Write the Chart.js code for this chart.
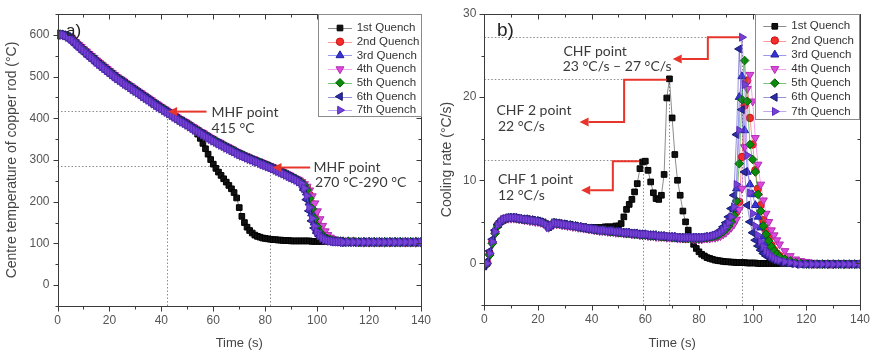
<!DOCTYPE html>
<html><head><meta charset="utf-8">
<script src="https://cdn.jsdelivr.net/npm/chart.js@4.4.1/dist/chart.umd.min.js"></script>
<style>
html,body{margin:0;padding:0;background:#fff;width:879px;height:352px;overflow:hidden;}
#wrap{position:relative;width:879px;height:352px;background:#fff;}
canvas{position:absolute;top:0;}
#cA{left:0;width:440px;height:352px;}
#cB{left:436px;width:443px;height:352px;}
</style></head><body>
<div id="wrap"><canvas id="cA" width="440" height="352"></canvas><canvas id="cB" width="443" height="352"></canvas></div>
<script>
// ---------- DATA ----------
const SERIES = ['1st Quench','2nd Quench','3rd Quench','4th Quench','5th Quench','6th Quench','7th Quench'];

// time (s) shared by every series
const T = [0,1,2,3,4,5,6,7,8,9,10,11,12,13,14,15,16,17,18,19,20,21,22,23,24,25,26,27,28,29,30,31,32,33,34,35,36,37,38,39,40,41,42,43,44,45,46,47,48,49,
50,51,52,53,54,55,56,57,58,59,60,61,62,63,64,65,66,67,68,69,70,71,72,73,74,75,76,77,78,79,80,81,82,83,84,85,86,87,88,89,90,91,92,93,94,95,96,97,98,99,100,101,102,103,104,105,106,107,108,109,110,
112,114,116,118,120,122,124,126,128,130,132,134,136,138,140];

// panel a) centre temperature (°C)
const temp1 = [600,600,600,598,595,591,586,580,574,568, 563,557,552,546,541,535,530,525,520,515, 510,505,500,495,491,487,482,478,474,469, 465,461,457,452,448,444,440,435,431,427, 423,419,415,411,407,403,399,395,391,388,
384,380,376,370,362,352,340,327,314,301, 290,280,271,263,255,247,239,231,222,209, 186,165,150,139,131,125,120,117,115,113, 112,111,110,109,109,108,108,107,107,107, 106,106,106,106,106,106,106,106,105,105, 105,105,105,105,105,105,105,105,105,104, 104,
104,104,104,104,104,104,104,104,104,104,104,104,104,104,104];
const temp2 = [601,601,600,599,596,592,587,581,575,570, 564,559,553,548,542,537,532,527,522,517, 512,507,502,497,493,489,484,480,476,471, 467,463,459,454,450,446,442,437,433,429, 425,421,417,413,409,405,401,397,393,390,
386,382,378,374,370,366,363,359,355,351, 348,344,341,338,334,331,328,325,321,318, 315,312,309,307,304,301,299,296,294,291, 289,286,283,281,278,275,272,269,266,263, 259,256,253,250,246,240,232,216,194,170, 150,135,124,117,113,110,108,106,105,105, 104,
104,104,103,103,103,103,103,103,103,103,103,103,103,103,103];
const temp3 = [600,600,600,598,595,591,586,580,574,569, 563,558,552,547,542,536,531,526,521,516, 511,506,501,496,492,488,483,479,475,470, 466,462,458,453,449,445,441,436,432,428, 424,420,416,412,408,404,400,396,392,389,
385,381,377,373,369,365,362,358,354,350, 347,343,340,337,333,330,327,324,320,317, 314,311,308,305,303,300,298,295,293,290, 287,285,282,279,276,273,271,268,265,262, 258,255,252,249,245,237,222,198,172,150, 134,123,116,112,109,107,106,105,104,104, 104,
104,103,103,103,103,103,103,103,103,103,103,103,103,103,103];
const temp4 = [602,602,601,600,597,593,588,582,576,571, 565,560,554,549,544,538,533,528,523,518, 513,508,503,498,494,490,485,481,477,472, 468,464,460,455,451,447,443,438,434,430, 426,422,418,414,410,406,402,398,394,391,
387,383,379,375,371,367,364,360,356,352, 349,345,342,339,335,332,329,326,322,319, 316,313,310,308,305,302,300,297,295,292, 290,287,284,282,279,276,273,270,267,264, 260,257,254,251,247,242,236,227,213,196, 177,158,142,129,120,114,110,108,106,105, 105,
104,104,104,103,103,103,103,103,103,103,103,103,103,103,103];
const temp5 = [601,601,600,598,596,592,587,581,575,569, 563,558,552,547,542,536,531,526,521,516, 511,506,501,496,492,488,483,479,475,470, 466,462,458,453,449,445,441,436,432,428, 424,420,416,412,408,404,400,396,392,389,
385,381,377,373,369,366,362,358,354,351, 347,344,340,337,334,330,327,324,321,318, 314,312,309,306,303,301,298,296,293,291, 288,285,283,280,277,274,271,268,265,262, 259,256,253,249,245,239,228,208,183,159, 140,127,119,114,110,108,106,105,105,104, 104,
104,104,103,103,103,103,103,103,103,103,103,103,103,103,103];
const temp6 = [600,600,599,598,595,590,585,579,573,567, 562,556,551,546,541,535,530,525,520,515, 510,505,500,495,491,487,483,478,474,470, 466,461,457,453,449,444,440,436,432,427, 423,419,415,411,407,403,399,395,392,388,
384,380,376,372,368,364,361,357,353,349, 346,342,339,336,332,329,326,322,319,316, 313,310,307,304,302,299,297,294,292,289, 286,284,281,278,276,273,270,267,264,261, 258,255,251,247,241,228,205,178,154,137, 125,117,112,109,107,105,105,104,104,103, 103,
103,103,103,103,103,103,103,103,103,103,103,103,103,103,103];
const temp7 = [600,600,600,598,595,591,586,580,574,568, 563,557,552,546,541,535,530,525,520,515, 510,505,500,495,491,487,482,478,474,469, 465,461,457,452,448,444,440,435,431,427, 423,419,415,411,407,403,399,395,391,388,
384,380,376,372,369,365,361,357,353,350, 346,343,339,336,333,329,326,323,320,316, 313,310,308,305,302,300,297,295,292,289, 287,284,282,279,276,273,270,267,264,261, 258,255,252,248,243,232,214,186,160,141, 128,119,113,109,107,106,105,104,104,104, 103,
103,103,103,103,103,103,103,103,103,103,103,103,103,103,103];

// panel b) cooling rate (°C/s)
const rate1 = [-0.2,0.0,1.2,2.6,3.8,4.6,5.0,5.3,5.4,5.5, 5.5,5.5,5.5,5.4,5.4,5.3,5.3,5.2,5.2,5.1, 5.1,5.0,4.9,4.7,4.3,4.6,4.9,4.8,4.8,4.7, 4.7,4.6,4.6,4.5,4.5,4.4,4.4,4.4,4.3,4.3, 4.3,4.3,4.3,4.3,4.3,4.4,4.4,4.4,4.4,4.5,
4.5,4.8,5.6,6.5,7.1,7.7,8.6,9.6,11.4,12.2, 12.3,11.2,9.8,8.5,7.8,7.7,8.2,10.7,19.9,22.2, 17.5,13.1,10.0,8.2,6.3,5.0,4.0,3.0,2.3,1.8, 1.4,1.1,0.9,0.7,0.6,0.5,0.4,0.35,0.3,0.25, 0.2,0.2,0.15,0.15,0.1,0.1,0.1,0.1,0.05,0.05, 0.05,0.05,0.0,0.0,0.0,0.0,0.0,0.0,0.0,0.0, 0.0,
0.0,0.0,0.0,0.0,0.0,0.0,0.0,0.0,0.0,0.0,0.0,0.0,0.0,0.0,0.0];
const rate2 = [-0.2,0.1,1.2,2.6,3.8,4.6,5.0,5.3,5.4,5.5, 5.5,5.5,5.4,5.4,5.3,5.3,5.3,5.2,5.2,5.1, 5.1,5.0,4.9,4.7,4.4,4.6,4.8,4.8,4.8,4.7, 4.7,4.6,4.6,4.5,4.5,4.4,4.3,4.3,4.2,4.2, 4.1,4.1,4.0,4.0,4.0,3.9,3.9,3.8,3.8,3.8,
3.7,3.7,3.7,3.6,3.6,3.6,3.5,3.5,3.5,3.4, 3.4,3.4,3.3,3.3,3.3,3.3,3.2,3.2,3.2,3.2, 3.1,3.1,3.1,3.1,3.0,3.0,3.0,3.0,3.0,3.0, 3.0,3.0,3.0,3.1,3.1,3.2,3.2,3.3,3.5,3.7, 4.0,4.3,4.7,5.2,6.2,7.4,12.8,19.0,22.0,17.5, 14.3,11.2,9.0,7.0,5.2,4.0,3.0,2.2,1.6,1.2, 0.9,
0.5,0.3,0.2,0.1,0.0,-0.1,-0.1,-0.1,-0.1,-0.1,-0.1,-0.1,-0.1,-0.1,-0.1];
const rate3 = [-0.2,0.1,1.3,2.7,3.9,4.6,5.0,5.3,5.4,5.5, 5.5,5.5,5.5,5.4,5.3,5.3,5.3,5.2,5.2,5.1, 5.1,5.0,4.9,4.7,4.4,4.6,4.9,4.8,4.8,4.7, 4.7,4.6,4.6,4.5,4.5,4.4,4.4,4.3,4.3,4.2, 4.2,4.1,4.1,4.0,4.0,4.0,3.9,3.9,3.9,3.8,
3.8,3.8,3.7,3.7,3.7,3.6,3.6,3.6,3.5,3.5, 3.5,3.4,3.4,3.4,3.4,3.3,3.3,3.3,3.2,3.2, 3.2,3.2,3.1,3.1,3.1,3.1,3.1,3.1,3.1,3.1, 3.1,3.1,3.1,3.2,3.2,3.3,3.4,3.5,3.7,3.9, 4.3,4.8,5.4,6.5,9.0,20.0,22.5,16.0,11.0,9.5, 8.3,7.0,5.6,4.3,3.2,2.4,1.8,1.3,1.0,0.7, 0.5,
0.3,0.1,0.0,-0.1,-0.1,-0.1,-0.1,-0.1,-0.1,-0.1,-0.1,-0.1,-0.1,-0.1,-0.1];
const rate4 = [-0.4,-0.1,0.9,2.3,3.5,4.4,4.9,5.2,5.3,5.4, 5.4,5.4,5.4,5.3,5.3,5.2,5.2,5.1,5.1,5.0, 5.0,4.9,4.8,4.6,4.3,4.5,4.8,4.7,4.7,4.6, 4.6,4.5,4.5,4.4,4.4,4.3,4.3,4.2,4.2,4.1, 4.1,4.0,4.0,3.9,3.9,3.9,3.8,3.8,3.8,3.7,
3.7,3.7,3.6,3.6,3.6,3.5,3.5,3.5,3.4,3.4, 3.4,3.3,3.3,3.3,3.2,3.2,3.2,3.2,3.1,3.1, 3.1,3.1,3.0,3.0,3.0,3.0,3.0,3.0,2.9,2.9, 2.9,2.9,3.0,3.0,3.0,3.1,3.1,3.2,3.3,3.5, 3.7,4.0,4.3,4.7,5.3,6.5,9.0,14.0,21.0,22.7, 19.5,15.1,11.9,9.5,7.6,6.0,5.0,4.0,3.4,2.8, 2.3,
1.5,0.9,0.5,0.3,0.2,0.1,0.0,-0.1,-0.1,-0.1,-0.1,-0.1,-0.1,-0.1,-0.1];
const rate5 = [-0.1,0.0,1.0,2.4,3.6,4.5,5.0,5.2,5.4,5.5, 5.5,5.5,5.4,5.4,5.3,5.3,5.3,5.2,5.2,5.1, 5.1,5.0,4.9,4.7,4.4,4.6,4.9,4.8,4.8,4.7, 4.7,4.6,4.6,4.5,4.5,4.4,4.3,4.3,4.2,4.2, 4.1,4.1,4.0,4.0,4.0,3.9,3.9,3.8,3.8,3.8,
3.7,3.7,3.7,3.6,3.6,3.6,3.5,3.5,3.5,3.4, 3.4,3.4,3.3,3.3,3.3,3.3,3.2,3.2,3.2,3.2, 3.1,3.1,3.1,3.1,3.0,3.0,3.0,3.0,3.0,3.0, 3.0,3.0,3.1,3.1,3.2,3.2,3.3,3.4,3.6,3.8, 4.1,4.5,5.0,5.8,7.5,12.0,19.7,24.4,19.5,14.3, 12.5,11.0,8.3,6.3,4.5,3.5,2.7,2.0,1.5,1.1, 0.8,
0.5,0.3,0.1,0.0,-0.1,-0.1,-0.1,-0.1,-0.1,-0.1,-0.1,-0.1,-0.1,-0.1,-0.1];
const rate6 = [-0.3,0.2,1.5,2.9,4.0,4.7,5.1,5.3,5.4,5.5, 5.5,5.5,5.4,5.4,5.3,5.3,5.3,5.2,5.2,5.1, 5.1,5.0,4.9,4.7,4.4,4.6,4.9,4.8,4.8,4.7, 4.7,4.6,4.6,4.5,4.5,4.4,4.3,4.3,4.2,4.2, 4.1,4.1,4.0,4.0,4.0,3.9,3.9,3.9,3.8,3.8,
3.8,3.7,3.7,3.7,3.6,3.6,3.6,3.5,3.5,3.5, 3.4,3.4,3.4,3.3,3.3,3.3,3.3,3.2,3.2,3.2, 3.2,3.1,3.1,3.1,3.1,3.1,3.1,3.1,3.1,3.1, 3.1,3.1,3.2,3.2,3.3,3.4,3.5,3.7,4.0,4.4, 4.9,5.6,6.6,8.2,15.5,25.8,18.5,11.0,7.0,5.0, 3.7,2.8,2.1,1.6,1.2,0.9,0.7,0.5,0.4,0.3, 0.2,
0.1,0.0,-0.1,-0.1,-0.1,-0.1,-0.1,-0.1,-0.1,-0.1,-0.1,-0.1,-0.1,-0.1,-0.1];
const rate7 = [-0.2,0.0,1.2,2.6,3.8,4.6,5.0,5.3,5.4,5.5, 5.5,5.5,5.5,5.4,5.4,5.3,5.3,5.2,5.2,5.1, 5.1,5.0,4.9,4.7,4.3,4.6,4.9,4.8,4.8,4.7, 4.7,4.6,4.6,4.5,4.5,4.4,4.4,4.3,4.3,4.2, 4.2,4.1,4.1,4.0,4.0,4.0,3.9,3.9,3.9,3.8,
3.8,3.8,3.7,3.7,3.7,3.6,3.6,3.6,3.5,3.5, 3.5,3.5,3.4,3.4,3.4,3.3,3.3,3.3,3.3,3.2, 3.2,3.2,3.2,3.1,3.1,3.1,3.1,3.1,3.1,3.1, 3.1,3.1,3.1,3.2,3.2,3.3,3.4,3.5,3.7,4.0, 4.4,4.9,5.6,6.8,9.5,16.0,27.2,21.5,13.0,8.5, 6.0,4.5,3.4,2.6,2.0,1.5,1.2,0.9,0.7,0.5, 0.4,
0.2,0.1,0.0,-0.1,-0.1,-0.1,-0.1,-0.1,-0.1,-0.1,-0.1,-0.1,-0.1,-0.1,-0.1];

const TEMP = [temp1,temp2,temp3,temp4,temp5,temp6,temp7];
const RATE = [rate1,rate2,rate3,rate4,rate5,rate6,rate7];

// ---------- STYLE ----------
Chart.defaults.font.family = '"Liberation Sans", Arial, sans-serif';
const STY = [
  {line:'rgba(0,0,0,0.45)',      fill:'#111111', border:'#000000', shape:'rect',     r:4.0, rot:0},
  {line:'rgba(255,70,70,0.55)',  fill:'#f42c2c', border:'#cc1010', shape:'circle',   r:3.7, rot:0},
  {line:'rgba(70,70,235,0.55)',  fill:'#3434d6', border:'#2020a0', shape:'triangle', r:4.6, rot:0},
  {line:'rgba(230,90,230,0.55)', fill:'#de4ade', border:'#b02cb0', shape:'triangle', r:4.6, rot:180},
  {line:'rgba(0,150,0,0.55)',    fill:'#0b8a0b', border:'#005e00', shape:'rectRot',  r:4.3, rot:0},
  {line:'rgba(60,60,180,0.55)',  fill:'#2c2ca4', border:'#1a1a72', shape:'triangle', r:4.6, rot:270},
  {line:'rgba(140,95,225,0.55)', fill:'#7442d6', border:'#5a2cb8', shape:'triangle', r:4.6, rot:90}
];

function makeDatasets(arrs, k){
  return arrs.map((ys,i)=>({
    label: SERIES[i],
    data: T.map((t,j)=>({x:t, y:ys[j]})),
    showLine: true,
    borderColor: STY[i].line, borderWidth: 1,
    pointStyle: STY[i].shape, pointRotation: STY[i].rot, pointRadius: STY[i].r * (i === 0 ? 1 : k),
    pointBackgroundColor: STY[i].fill, pointBorderColor: STY[i].border, pointBorderWidth: 1,
    order: 6 - i
  }));
}

function isMajor(v, major){ return Math.abs(Math.round(v/major)*major - v) < 1e-6; }

function decoPlugin(cfg){
  return {
    id: 'deco',
    beforeDatasetsDraw(chart){
      const {ctx, scales:{x,y}} = chart;
      ctx.save();
      ctx.strokeStyle = '#8c8c8c'; ctx.lineWidth = 1; ctx.setLineDash([1.5,2]);
      ctx.beginPath();
      cfg.guides.forEach(g=>{
        if (g.h !== undefined){
          const py = Math.round(y.getPixelForValue(g.h))+0.5;
          ctx.moveTo(x.getPixelForValue(g.x0), py); ctx.lineTo(x.getPixelForValue(g.x1), py);
        } else {
          const px = Math.round(x.getPixelForValue(g.v))+0.5;
          ctx.moveTo(px, y.getPixelForValue(g.y0)); ctx.lineTo(px, y.getPixelForValue(g.y1));
        }
      });
      ctx.stroke(); ctx.restore();
    },
    afterDraw(chart){
      const {ctx, chartArea:a, scales:{x,y}} = chart;
      ctx.save();
      ctx.strokeStyle = '#3a3a3a'; ctx.lineWidth = 1;
      const L = Math.round(a.left)+0.5, R = Math.round(a.right)+0.5, TT = Math.round(a.top)+0.5, B = Math.round(a.bottom)+0.5;
      ctx.strokeRect(L, TT, R-L, B-TT);
      ctx.beginPath();
      for (let v = x.min; v <= x.max + 1e-9; v += cfg.xMinor){
        const px = Math.round(x.getPixelForValue(v))+0.5;
        const len = isMajor(v, cfg.xMajor) ? 5 : 3;
        ctx.moveTo(px, B); ctx.lineTo(px, B+len);
        ctx.moveTo(px, TT); ctx.lineTo(px, TT+len);
      }
      for (let v = y.min; v <= y.max + 1e-9; v += cfg.yMinor){
        const py = Math.round(y.getPixelForValue(v))+0.5;
        const len = isMajor(v, cfg.yMajor) ? 5 : 3;
        ctx.moveTo(L, py); ctx.lineTo(L-len, py);
        ctx.moveTo(R, py); ctx.lineTo(R-len, py);
      }
      ctx.stroke();
      ctx.strokeStyle = '#e8352c'; ctx.fillStyle = '#e8352c'; ctx.lineWidth = 2; ctx.lineJoin = 'miter';
      cfg.arrows.forEach(pts=>{
        const P = pts.map(p=>[x.getPixelForValue(p[0]), y.getPixelForValue(p[1])]);
        const n = P.length, e = P[n-1], s = P[n-2];
        const ang = Math.atan2(e[1]-s[1], e[0]-s[0]);
        const hl = 9, hw = 4.5;
        const bx = e[0] - Math.cos(ang)*hl, by = e[1] - Math.sin(ang)*hl;
        ctx.beginPath();
        ctx.moveTo(P[0][0], P[0][1]);
        for (let i=1;i<n-1;i++) ctx.lineTo(P[i][0], P[i][1]);
        ctx.lineTo(bx, by);
        ctx.stroke();
        ctx.beginPath();
        ctx.moveTo(e[0], e[1]);
        ctx.lineTo(bx - Math.sin(ang)*hw, by + Math.cos(ang)*hw);
        ctx.lineTo(bx + Math.sin(ang)*hw, by - Math.cos(ang)*hw);
        ctx.closePath(); ctx.fill();
      });
      ctx.fillStyle = '#3a3a3a'; ctx.font = '14px Lato, "Open Sans", sans-serif';
      ctx.textBaseline = 'middle'; ctx.textAlign = 'left';
      cfg.texts.forEach(t=>{ ctx.fillText(t.t, x.getPixelForValue(t.x), y.getPixelForValue(t.y)); });
      ctx.fillStyle = '#222'; ctx.font = cfg.letterFont; ctx.textBaseline = 'alphabetic';
      ctx.fillText(cfg.letter, a.left + cfg.letterDx, a.top + cfg.letterDy);
      const lg = cfg.legend;
      const bx0 = a.right - lg.dxRight - lg.w, by0 = a.top + lg.dyTop;
      ctx.fillStyle = '#fff'; ctx.fillRect(bx0, by0, lg.w, lg.h);
      ctx.strokeStyle = '#8a8a8a'; ctx.lineWidth = 1;
      ctx.strokeRect(Math.round(bx0)+0.5, Math.round(by0)+0.5, lg.w, lg.h);
      ctx.font = '11.5px "Liberation Sans", Arial, sans-serif'; ctx.textBaseline = 'middle';
      SERIES.forEach((name,i)=>{
        const ry = by0 + lg.row0 + i*lg.dy;
        ctx.strokeStyle = STY[i].line; ctx.lineWidth = 1;
        ctx.beginPath(); ctx.moveTo(bx0+lg.l0, Math.round(ry)+0.5); ctx.lineTo(bx0+lg.l1, Math.round(ry)+0.5); ctx.stroke();
        ctx.fillStyle = STY[i].fill; ctx.strokeStyle = STY[i].border;
        Chart.helpers.drawPoint(ctx, {pointStyle: STY[i].shape, rotation: STY[i].rot, radius: STY[i].r, borderWidth: 1}, bx0+(lg.l0+lg.l1)/2, ry);
        ctx.fillStyle = '#333';
        ctx.fillText(name, bx0+lg.tx, ry);
      });
      ctx.restore();
    }
  };
}

function axisOpts(min, max, step, major, width, titleText, titleFont, titlePad, isX){
  const o = {
    type: 'linear', min, max,
    grid: {display: false, drawTicks: false},
    border: {display: false},
    ticks: {stepSize: step, autoSkip: false, maxRotation: 0, color: '#555',
      font: {size: 12, lineHeight: 1}, padding: isX ? 9 : 8,
      callback: v => isMajor(v, major) ? String(Math.round(v)) : ''},
    title: {display: true, text: titleText, color: '#444', font: {size: titleFont}, padding: titlePad}
  };
  if (isX) o.afterFit = s => { s.height = width; };
  else o.afterFit = s => { s.width = width; };
  return o;
}

new Chart(document.getElementById('cA'), {
  type: 'scatter',
  data: { datasets: makeDatasets(TEMP, 1.08) },
  options: {
    responsive: false, animation: false, events: [], devicePixelRatio: 1,
    layout: {padding: {left: 0, right: 14.3, top: 6, bottom: 0}},
    plugins: {legend: {display: false}, tooltip: {enabled: false}},
    elements: {line: {tension: 0}},
    scales: {
      x: axisOpts(0, 140, 10, 20, 46, 'Time (s)', 13, {top: 0, bottom: 1}, true),
      y: axisOpts(-50, 650, 50, 100, 57.5, 'Centre temperature of copper rod (°C)', 14, {top: 4, bottom: 0}, false)
    }
  },
  plugins: [decoPlugin({
    xMinor: 10, xMajor: 20, yMinor: 50, yMajor: 100,
    guides: [{h:417, x0:0, x1:42}, {v:42, y0:-50, y1:417}, {h:286, x0:0, x1:82}, {v:82, y0:-50, y1:286}],
    arrows: [[[57.4,416],[42.6,416]], [[97.3,282],[82.8,282]]],
    texts: [{t:'MHF point', x:59.3, y:415}, {t:'415 °C', x:59.3, y:376}, {t:'MHF point', x:98.6, y:283}, {t:'270 °C-290 °C', x:99.2, y:245}],
    letter: 'a)', letterFont: '17px "Liberation Sans", Arial, sans-serif', letterDx: 8.5, letterDy: 22,
    legend: {dxRight: 0, dyTop: 0, w: 103, h: 102, row0: 14, dy: 13.7, l0: 10, l1: 34, tx: 38.7}
  })]
});

new Chart(document.getElementById('cB'), {
  type: 'scatter',
  data: { datasets: makeDatasets(RATE, 1.0) },
  options: {
    responsive: false, animation: false, events: [], devicePixelRatio: 1,
    layout: {padding: {left: 0, right: 12.3, top: 11.7, bottom: 0}},
    plugins: {legend: {display: false}, tooltip: {enabled: false}},
    elements: {line: {tension: 0}},
    scales: {
      x: axisOpts(0, 140, 10, 20, 47, 'Time (s)', 13, {top: 0, bottom: 1}, true),
      y: axisOpts(-5, 30, 5, 10, 48.3, 'Cooling rate (°C/s)', 14, {top: 3, bottom: 0}, false)
    }
  },
  plugins: [decoPlugin({
    xMinor: 10, xMajor: 20, yMinor: 5, yMajor: 10,
    guides: [{h:27.2, x0:0, x1:96}, {v:96, y0:-5, y1:27.2}, {h:22.2, x0:0, x1:69}, {v:69, y0:-5, y1:22.2}, {h:12.4, x0:0, x1:59.3}, {v:59.3, y0:-5, y1:12.4}],
    arrows: [[[95,27.2],[83.3,27.2],[83.3,24.6],[70.2,24.6]], [[68,22.1],[52.1,22.1],[52.1,17.0],[35.5,17.0]], [[57.6,12.3],[47.9,12.3],[47.9,8.8],[36.1,8.8]]],
    texts: [{t:'CHF point', x:29.5, y:25.45}, {t:'23 °C/s – 27 °C/s', x:29.2, y:23.66}, {t:'CHF 2 point', x:4.5, y:18.37}, {t:'22 °C/s', x:5.1, y:16.5}, {t:'CHF 1 point', x:5.1, y:10.06}, {t:'12 °C/s', x:5.1, y:8.15}],
    letter: 'b)', letterFont: '19px "Liberation Sans", Arial, sans-serif', letterDx: 12.7, letterDy: 21.5,
    legend: {dxRight: 1, dyTop: 0, w: 104, h: 105, row0: 12.3, dy: 14.2, l0: 8.3, l1: 31.3, tx: 36.3}
  })]
});
</script>
</body></html>
